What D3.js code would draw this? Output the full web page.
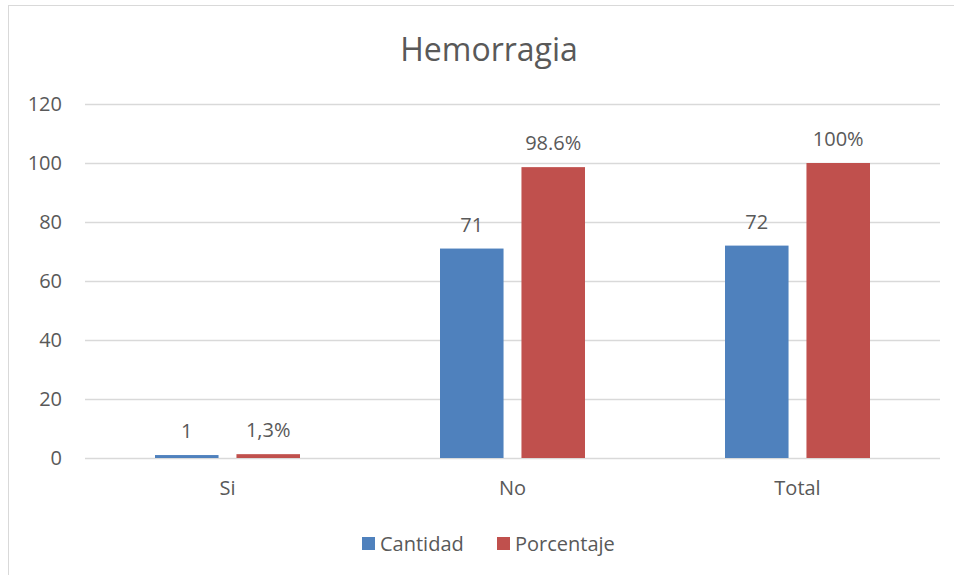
<!DOCTYPE html>
<html>
<head>
<meta charset="utf-8">
<script src="https://cdn.jsdelivr.net/npm/d3@7"></script>
<style>
  body { margin: 0; background: #fff; }
  text { font-family: "Open Sans", "Liberation Sans", sans-serif; fill: #595959; }
</style>
</head>
<body>
<div id="chart"></div>
<script>
var categories = ["Si", "No", "Total"];
var seriesNames = ["Cantidad", "Porcentaje"];
var cantidad = [1, 71, 72];
var porcentaje = [1.3, 98.6, 100];
var labelsCantidad = ["1", "71", "72"];
var labelsPorcentaje = ["1,3%", "98.6%", "100%"];
var yTicks = [0, 20, 40, 60, 80, 100, 120];
var colors = ["#4F81BD", "#C0504D"];

var W = 954, H = 575;
var margin = { top: 104, right: 14, bottom: 117, left: 85 },
    width = W - margin.left - margin.right,
    height = H - margin.top - margin.bottom;

var svgRoot = d3.select("#chart")
    .append("svg")
    .attr("width", W)
    .attr("height", H);

// chart border
svgRoot.append("rect")
    .attr("x", 8.5).attr("y", 5.5)
    .attr("width", W - 4).attr("height", H)
    .attr("fill", "none")
    .attr("stroke", "#d9d9d9");

svgRoot.append("text")
    .attr("x", 489).attr("y", 61)
    .attr("text-anchor", "middle")
    .style("font-size", "32px")
    .text("Hemorragia");

var svg = svgRoot.append("g")
    .attr("transform", "translate(" + margin.left + "," + margin.top + ")");

var rows = categories.map(function (c, i) {
    return { cat: c, vals: [
        { s: 0, v: cantidad[i], label: labelsCantidad[i] },
        { s: 1, v: porcentaje[i], label: labelsPorcentaje[i] }
    ] };
});

var x = d3.scaleBand()
    .domain(categories)
    .range([0, width]);

var x1 = d3.scaleBand()
    .domain([0, 1])
    .range([70, x.bandwidth() - 70])
    .paddingInner(0.22);

var y = d3.scaleLinear()
    .domain([0, 120])
    .range([height, 0]);

// gridlines
svg.append("g")
    .selectAll("line")
    .data(yTicks)
    .enter()
    .append("line")
    .attr("x1", 0).attr("x2", width)
    .attr("y1", function (d) { return Math.round(y(d)) + 0.5; })
    .attr("y2", function (d) { return Math.round(y(d)) + 0.5; })
    .attr("stroke", "#d9d9d9")
    .attr("stroke-width", 1.3);

// y axis labels
var yAxis = svg.append("g")
    .call(d3.axisLeft(y).tickValues(yTicks).tickSize(0).tickPadding(23));
yAxis.select(".domain").remove();
yAxis.selectAll("text")
    .style("font-size", "20px")
    .style("font-family", "'Open Sans', sans-serif")
    .attr("fill", "#595959");

var groups = svg.append("g")
    .selectAll("g")
    .data(rows)
    .enter()
    .append("g")
    .attr("transform", function (d) { return "translate(" + x(d.cat) + ",0)"; });

groups.selectAll("rect")
    .data(function (d) { return d.vals; })
    .enter()
    .append("rect")
    .attr("x", function (d) { return x1(d.s); })
    .attr("width", x1.bandwidth())
    .attr("y", function (d) { return y(d.v); })
    .attr("height", function (d) { return y(0) - y(d.v); })
    .attr("fill", function (d) { return colors[d.s]; });

groups.selectAll("text.lbl")
    .data(function (d) { return d.vals; })
    .enter()
    .append("text")
    .attr("class", "lbl")
    .attr("x", function (d) { return x1(d.s) + x1.bandwidth() / 2; })
    .attr("y", function (d) { return y(d.v) - 17; })
    .attr("text-anchor", "middle")
    .style("font-size", "20px")
    .text(function (d) { return d.label; });

// x axis labels
var xAxis = svg.append("g")
    .attr("transform", "translate(0," + height + ")")
    .call(d3.axisBottom(x).tickSize(0).tickPadding(23));
xAxis.select(".domain").remove();
xAxis.selectAll("text")
    .style("font-size", "20px")
    .style("font-family", "'Open Sans', sans-serif")
    .attr("fill", "#595959");

// legend
var legendX = [362, 497];
var legend = svgRoot.append("g")
    .selectAll("g")
    .data(seriesNames)
    .enter()
    .append("g")
    .attr("transform", function (d, i) { return "translate(" + legendX[i] + ",537)"; });

legend.append("rect")
    .attr("width", 13).attr("height", 13)
    .attr("fill", function (d, i) { return colors[i]; });

legend.append("text")
    .attr("x", 18).attr("y", 14)
    .style("font-size", "20px")
    .text(function (d) { return d; });
</script>
</body>
</html>
